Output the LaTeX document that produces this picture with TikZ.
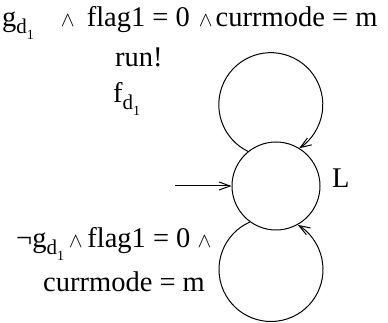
\documentclass[tikz,border=0pt]{standalone}
\usepackage{fontspec}
\setmainfont{Liberation Serif}
\usetikzlibrary{arrows.meta}
\newcommand\dsub{\raisebox{-7pt}{\fontsize{21}{21}\selectfont d\raisebox{-6pt}{\fontsize{14}{14}\selectfont 1}}}
\newcommand\wdg{{\fontsize{21}{21}\selectfont$\wedge$}}
\tikzset{
  lbl/.style={inner sep=0pt, anchor=base west, font=\fontsize{28.5}{32}\selectfont},
  state/.style={circle, draw, line width=1pt, minimum size=88pt, inner sep=0pt},
  edge/.style={line width=1pt, -{Straight Barb[length=11pt,width=8pt,line width=1pt]}}
}
\begin{document}
\begin{tikzpicture}[x=1pt,y=1pt]
\useasboundingbox (0,0) rectangle (388,323);
\node[state] (L) at (276,137) {};
\node[lbl] (Ll) at (332,135) {L};
\coordinate (start) at (175,137);
\draw[edge] (start) -- (L);
\draw[edge] (L.129) arc[start angle=244, end angle=-57, radius=52];
\draw[edge] (L.234) arc[start angle=114, end angle=419, radius=52];
\node[lbl] (t1) at (2,296) {g\dsub\hspace{27pt}\wdg\hspace{12pt}flag1 = 0\hspace{9pt}\wdg\hspace{3pt}currmode = m};
\node[lbl] (t2) at (115,256) {run!};
\node[lbl] (t3) at (113,220) {f\dsub};
\node[lbl] (b1) at (16,75) {¬g\dsub\,\wdg\,flag1 = 0 \wdg};
\node[lbl] (b2) at (43,31) {currmode = m};
\end{tikzpicture}
\end{document}
